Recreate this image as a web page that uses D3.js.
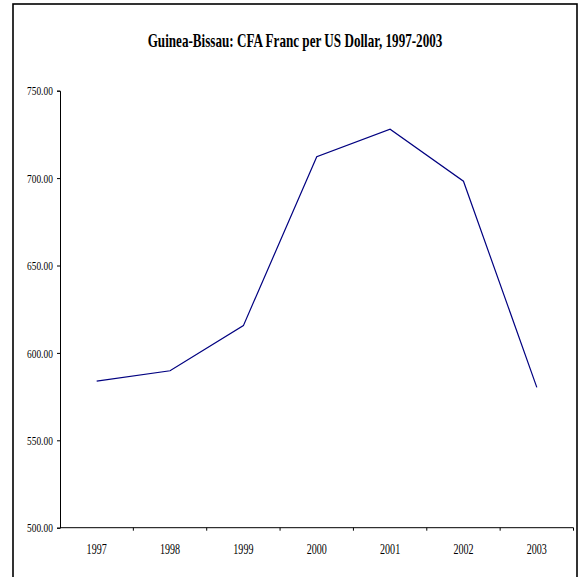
<!DOCTYPE html>
<html>
<head>
<meta charset="utf-8">
<script src="https://cdn.jsdelivr.net/npm/d3@7/dist/d3.min.js"></script>
<style>
  html, body { margin: 0; padding: 0; background: #fff; }
  svg { display: block; }
</style>
</head>
<body>
<script>
// Guinea-Bissau exchange rate, CFA francs per US dollar
const years = ["1997", "1998", "1999", "2000", "2001", "2002", "2003"];
const rates = [583.9, 589.8, 615.6, 712.2, 728.0, 698.2, 580.3];
const yTickValues = [500, 550, 600, 650, 700, 750];
const titleText = "Guinea-Bissau: CFA Franc per US Dollar, 1997-2003";

const W = 579, H = 577;
const plot = { left: 60, right: 573.5, top: 90.7, bottom: 527.7 };
const squeeze = 0.72; // narrow serif lettering

const svg = d3.select("body").append("svg")
  .attr("width", W).attr("height", H);

svg.append("rect").attr("width", W).attr("height", H).attr("fill", "#fff");

// outer frame
svg.append("rect")
  .attr("x", 13).attr("y", 4)
  .attr("width", 564).attr("height", 590)
  .attr("fill", "none").attr("stroke", "#000").attr("stroke-width", 1.6);

const x = d3.scaleBand().domain(years).range([plot.left, plot.right]).padding(0);
const y = d3.scaleLinear().domain([500, 750]).range([plot.bottom, plot.top]);

// title
const title = svg.append("text")
  .attr("font-family", "'Liberation Serif', 'Times New Roman', serif")
  .attr("font-weight", "bold")
  .attr("font-size", 18.5)
  .attr("text-anchor", "middle")
  .attr("fill", "#000")
  .text(titleText);
const tw = title.node().getComputedTextLength();
const tScale = 295 / tw;
title.attr("transform", `translate(295,47) scale(${tScale},1)`);

// y axis
const yAxis = svg.append("g")
  .attr("transform", `translate(${plot.left},0)`)
  .call(d3.axisLeft(y).tickValues(yTickValues).tickSize(3).tickPadding(7)
    .tickFormat(d3.format(".2f")));
yAxis.select(".domain").attr("stroke", "#000").attr("stroke-width", 1);
yAxis.selectAll(".tick line").attr("stroke", "#000");
yAxis.selectAll("text")
  .attr("font-family", "'Liberation Serif', 'Times New Roman', serif")
  .attr("font-size", 13)
  .attr("fill", "#000")
  .attr("transform", `scale(${squeeze},1)`);

// x axis: labels centred in each category, ticks on category boundaries
const xAxis = svg.append("g")
  .attr("transform", `translate(0,${plot.bottom})`)
  .call(d3.axisBottom(x).tickSize(0).tickPadding(16));
xAxis.select(".domain").remove();
xAxis.selectAll("text")
  .attr("font-family", "'Liberation Serif', 'Times New Roman', serif")
  .attr("font-size", 14)
  .attr("fill", "#000")
  .attr("transform", `scale(${squeeze},1)`);

svg.append("line")
  .attr("x1", plot.left).attr("x2", plot.right)
  .attr("y1", plot.bottom).attr("y2", plot.bottom)
  .attr("stroke", "#000").attr("stroke-width", 1);

const bounds = years.map(d => x(d)).concat([x(years[years.length - 1]) + x.bandwidth()]);
svg.append("g").selectAll("line")
  .data(bounds.slice(1))
  .join("line")
  .attr("x1", d => d).attr("x2", d => d)
  .attr("y1", plot.bottom).attr("y2", plot.bottom + 3)
  .attr("stroke", "#000").attr("stroke-width", 1);

// rate line
const line = d3.line()
  .x((d, i) => x(years[i]) + x.bandwidth() / 2)
  .y(d => y(d));

svg.append("path")
  .datum(rates)
  .attr("d", line)
  .attr("fill", "none")
  .attr("stroke", "#000080")
  .attr("stroke-width", 1.2);
</script>
</body>
</html>
